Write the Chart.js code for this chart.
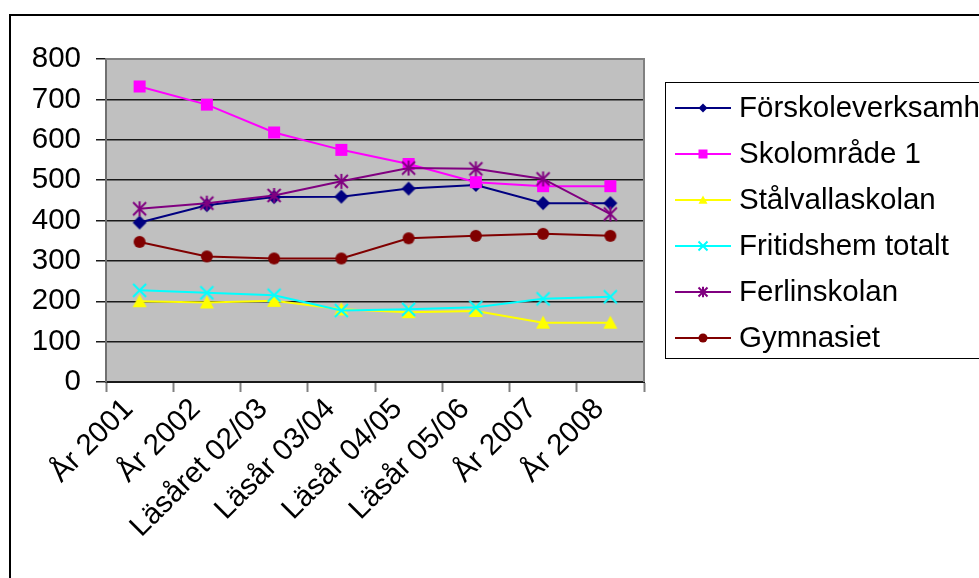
<!DOCTYPE html>
<html><head><meta charset="utf-8">
<script src="https://cdn.jsdelivr.net/npm/chart.js@4/dist/chart.umd.min.js"></script>
<style>html,body{margin:0;padding:0;background:#fff;}#wrap{width:979px;height:578px;}</style>
</head><body><div id="wrap"><canvas id="c" width="979" height="578"></canvas></div>
<script>
// ---- data ----
const categories = ['År 2001', 'År 2002', 'Läsåret 02/03', 'Läsår 03/04', 'Läsår 04/05', 'Läsår 05/06', 'År 2007', 'År 2008'];
const seriesNames = ['Förskoleverksamh', 'Skolområde 1', 'Stålvallaskolan', 'Fritidshem totalt', 'Ferlinskolan', 'Gymnasiet'];
const forskoleverksamh = [395, 438, 458, 459, 479, 488, 443, 443];
const skolomrade1 = [732, 687, 618, 575, 540, 495, 485, 485];
const stalvallaskolan = [200, 197, 201, 180, 173, 176, 147, 147];
const fritidshemTotalt = [227, 221, 215, 177, 180, 185, 206, 211];
const ferlinskolan = [429, 443, 462, 497, 530, 528, 503, 416];
const gymnasiet = [347, 311, 306, 306, 356, 362, 367, 362];
const yTicks = [0, 100, 200, 300, 400, 500, 600, 700, 800];

// ---- styles ----
const FONT = "'Liberation Sans', Arial, sans-serif";
const FS = 29.5;
const seriesData = [forskoleverksamh, skolomrade1, stalvallaskolan, fritidshemTotalt, ferlinskolan, gymnasiet];
const colors = ['#000080', '#FF00FF', '#FFFF00', '#00FFFF', '#800080', '#800000'];
const shapes = ['diamond', 'square', 'triangle', 'x', 'star', 'circle'];

function drawMarker(ctx, shape, x, y, s, color) {
  ctx.save();
  ctx.fillStyle = color; ctx.strokeStyle = color; ctx.lineWidth = 2;
  ctx.beginPath();
  if (shape === 'diamond') {
    ctx.moveTo(x, y - s); ctx.lineTo(x + s, y); ctx.lineTo(x, y + s); ctx.lineTo(x - s, y); ctx.closePath(); ctx.fill();
  } else if (shape === 'square') {
    ctx.rect(x - s, y - s, 2 * s, 2 * s); ctx.fill();
  } else if (shape === 'triangle') {
    ctx.moveTo(x, y - s); ctx.lineTo(x + s, y + s * 0.85); ctx.lineTo(x - s, y + s * 0.85); ctx.closePath(); ctx.fill();
  } else if (shape === 'x') {
    ctx.moveTo(x - s, y - s); ctx.lineTo(x + s, y + s); ctx.moveTo(x + s, y - s); ctx.lineTo(x - s, y + s); ctx.stroke();
  } else if (shape === 'star') {
    ctx.moveTo(x - s, y - s); ctx.lineTo(x + s, y + s); ctx.moveTo(x + s, y - s); ctx.lineTo(x - s, y + s);
    ctx.moveTo(x, y - s * 1.15); ctx.lineTo(x, y + s * 1.15); ctx.stroke();
  } else if (shape === 'circle') {
    ctx.arc(x, y, s, 0, Math.PI * 2); ctx.fill();
  }
  ctx.restore();
}

function markerCanvas(shape, s, color) {
  const size = Math.ceil(s * 2 + 6);
  const cv = document.createElement('canvas');
  cv.width = size; cv.height = size;
  drawMarker(cv.getContext('2d'), shape, size / 2, size / 2, s, color);
  return cv;
}

const plotSizes = [7, 6, 7, 6.5, 6.5, 6];
const datasets = seriesNames.map((name, i) => ({
  label: name,
  data: seriesData[i],
  borderColor: colors[i],
  backgroundColor: colors[i],
  borderWidth: 2,
  tension: 0,
  pointStyle: markerCanvas(shapes[i], plotSizes[i], colors[i]),
  pointRadius: 8,
  pointHoverRadius: 8,
  order: seriesNames.length - i
}));

const bgPlugin = {
  id: 'bg',
  beforeDraw(chart) {
    const ctx = chart.ctx, a = chart.chartArea;
    ctx.save();
    ctx.fillStyle = '#fff'; ctx.fillRect(0, 0, chart.width, chart.height);
    ctx.fillStyle = '#C0C0C0'; ctx.fillRect(a.left, a.top, a.right - a.left, a.bottom - a.top);
    ctx.strokeStyle = '#000'; ctx.lineWidth = 2;
    ctx.strokeRect(10, 15, 1100, 700);
    ctx.restore();
  },
  beforeDatasetsDraw(chart) {
    const ctx = chart.ctx, a = chart.chartArea;
    ctx.save();
    ctx.strokeStyle = '#808080'; ctx.lineWidth = 2;
    ctx.beginPath();
    ctx.moveTo(a.left, a.top); ctx.lineTo(a.right, a.top); ctx.lineTo(a.right, a.bottom);
    ctx.stroke();
    ctx.restore();
  },
  afterDraw(chart) {
    const ctx = chart.ctx;
    ctx.save();
    ctx.strokeStyle = '#000'; ctx.lineWidth = 1;
    ctx.strokeRect(665.5, 82.5, 340, 276);
    ctx.font = FS + 'px ' + FONT;
    ctx.textBaseline = 'middle';
    ctx.textAlign = 'left';
    seriesNames.forEach((name, i) => {
      const y = 108 + i * 46;
      ctx.strokeStyle = colors[i]; ctx.lineWidth = 2;
      ctx.beginPath(); ctx.moveTo(675, y); ctx.lineTo(731, y); ctx.stroke();
      drawMarker(ctx, shapes[i], 703, y, 4.5, colors[i]);
      ctx.fillStyle = '#000';
      ctx.fillText(name, 739, y + 1);
    });
    ctx.restore();
  }
};

new Chart(document.getElementById('c'), {
  type: 'line',
  data: { labels: categories, datasets },
  options: {
    responsive: false,
    animation: false,
    devicePixelRatio: 1,
    layout: { padding: { left: 0, top: 59, right: 335, bottom: 0 } },
    plugins: { legend: { display: false }, tooltip: { enabled: false } },
    scales: {
      x: {
        offset: true,
        grid: { offset: true, drawOnChartArea: false, drawTicks: true, tickLength: 10, tickColor: '#808080', tickWidth: 2 },
        border: { color: '#1a1a1a', width: 2 },
        ticks: { autoSkip: false, minRotation: 45, maxRotation: 45, color: '#000', font: { family: FONT, size: FS }, padding: 0, labelOffset: -11 },
        afterFit(s) { s.height = 196; }
      },
      y: {
        min: 0, max: 800,
        afterBuildTicks(s) { s.ticks = yTicks.map(v => ({ value: v })); },
        ticks: { color: '#000', font: { family: FONT, size: FS }, padding: 15 },
        grid: { color: '#1a1a1a', lineWidth: 1.5, tickLength: 10, tickColor: '#1a1a1a', drawTicks: true },
        border: { color: '#707070', width: 2 },
        afterFit(s) { s.width = 106; }
      }
    }
  },
  plugins: [bgPlugin]
});
</script></body></html>
